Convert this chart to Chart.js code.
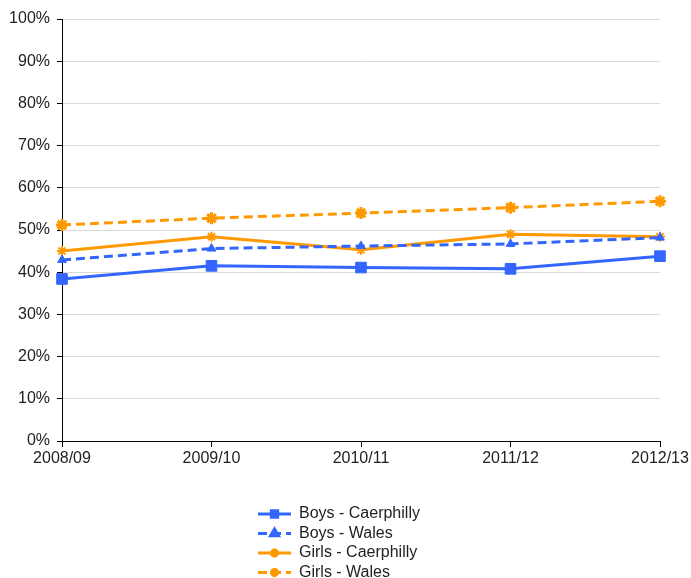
<!DOCTYPE html>
<html>
<head>
<meta charset="utf-8">
<script src="https://cdn.jsdelivr.net/npm/chart.js@4/dist/chart.umd.min.js"></script>
<style>
html,body{margin:0;padding:0;background:#fff;}
#wrap{width:691px;height:578px;position:relative;}
</style>
</head>
<body>
<div id="wrap"><canvas id="c" width="691" height="578"></canvas></div>
<script>
const categories = ['2008/09', '2009/10', '2010/11', '2011/12', '2012/13'];
const boysCaerphilly = [38.4, 41.5, 41.1, 40.8, 43.8];
const boysWales = [42.9, 45.6, 46.2, 46.7, 48.2];
const girlsCaerphilly = [45.0, 48.4, 45.3, 49.0, 48.4];
const girlsWales = [51.2, 52.8, 54.0, 55.3, 56.8];
const seriesNames = ['Boys - Caerphilly', 'Boys - Wales', 'Girls - Caerphilly', 'Girls - Wales'];
const yTicks = [0, 10, 20, 30, 40, 50, 60, 70, 80, 90, 100];

const BLUE = '#3366FF';
const ORANGE = '#FF9900';
const FONT = '"Liberation Sans", Arial, sans-serif';

function ds(label, data, color, dash, style, radius, bw) {
  return {
    label, data,
    borderColor: color, backgroundColor: color,
    borderWidth: 3, borderDash: dash,
    pointStyle: style, pointRadius: radius, pointHoverRadius: radius,
    pointBorderWidth: bw, pointBorderColor: color, pointBackgroundColor: color,
    tension: 0, fill: false
  };
}

const legendPlugin = {
  id: 'customLegend',
  afterDraw(chart) {
    const ctx = chart.ctx;
    const startY = chart.chartArea.bottom + 73;
    const rowH = 19.5;
    const x0 = 258, x1 = 291, tx = 299;
    ctx.save();
    chart.data.datasets.forEach((d, i) => {
      const y = startY + i * rowH;
      ctx.strokeStyle = d.borderColor;
      ctx.fillStyle = d.borderColor;
      ctx.lineWidth = 3;
      ctx.setLineDash(d.borderDash || []);
      ctx.beginPath();
      ctx.moveTo(x0, y);
      ctx.lineTo(x1, y);
      ctx.stroke();
      ctx.setLineDash([]);
      Chart.helpers.drawPoint(ctx, {
        pointStyle: d.pointStyle, radius: Math.min(d.pointRadius, 4.5), rotation: 0,
        borderWidth: Math.min(d.pointBorderWidth, 2)
      }, (x0 + x1) / 2, y);
      ctx.fillStyle = '#222';
      ctx.font = '16px ' + FONT;
      ctx.textBaseline = 'middle';
      ctx.textAlign = 'left';
      ctx.fillText(d.label, tx, y);
    });
    ctx.restore();
  }
};

new Chart(document.getElementById('c'), {
  type: 'line',
  data: {
    labels: categories,
    datasets: [
      ds(seriesNames[0], boysCaerphilly, BLUE, [], 'rect', 7.5, 1),
      ds(seriesNames[1], boysWales, BLUE, [9, 5], 'triangle', 5, 1),
      ds(seriesNames[2], girlsCaerphilly, ORANGE, [], 'star', 5, 2),
      ds(seriesNames[3], girlsWales, ORANGE, [9, 5], 'star', 6, 3)
    ]
  },
  options: {
    responsive: false,
    animation: false,
    devicePixelRatio: 1,
    layout: { padding: { top: 19, right: 31, left: 0, bottom: 0 } },
    plugins: { legend: { display: false }, tooltip: { enabled: false } },
    scales: {
      x: {
        offset: false,
        grid: { drawOnChartArea: false, drawTicks: true, tickLength: 6, tickColor: '#000' },
        border: { color: '#000', width: 1 },
        ticks: { color: '#222', font: { family: FONT, size: 16 }, padding: 2, maxRotation: 0, autoSkip: false },
        afterFit(scale) { scale.height = 137; }
      },
      y: {
        min: 0, max: 100,
        afterBuildTicks(scale) { scale.ticks = yTicks.map(v => ({ value: v })); },
        grid: { color: '#d9d9d9', lineWidth: 1, drawTicks: true, tickLength: 5, tickColor: '#000' },
        border: { color: '#000', width: 1 },
        ticks: { color: '#222', font: { family: FONT, size: 16 }, padding: 7, callback: v => v + '%' },
        afterFit(scale) { scale.width = 62; }
      }
    }
  },
  plugins: [legendPlugin]
});
</script>
</body>
</html>
